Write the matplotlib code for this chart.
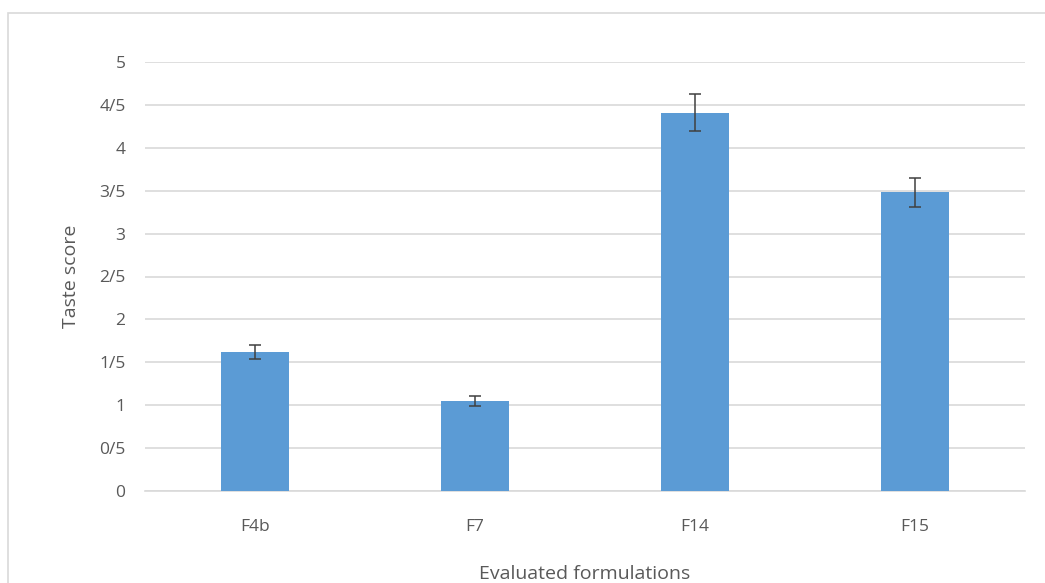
import matplotlib.pyplot as plt
from matplotlib.patches import Rectangle
import numpy as np

# data
formulations = ["F4b", "F7", "F14", "F15"]
taste_score = [1.62, 1.05, 4.41, 3.48]
score_err = [0.08, 0.06, 0.22, 0.17]

y_ticks = [0, 0.5, 1, 1.5, 2, 2.5, 3, 3.5, 4, 4.5, 5]
y_tick_labels = ["0", "0/5", "1", "1/5", "2", "2/5", "3", "3/5", "4", "4/5", "5"]

text_col = "#595959"
plt.rcParams["font.family"] = ["Open Sans", "DejaVu Sans"]

fig = plt.figure(figsize=(10.45, 5.83), dpi=100)
fig.set_facecolor("white")

# light frame around the chart area (runs off right/bottom like the source)
fig.patches.append(Rectangle((8 / 1045, -0.05), 1.1, 1 - 13 / 583 + 0.05,
                             transform=fig.transFigure, fill=False,
                             edgecolor="#d9d9d9", linewidth=1.2, zorder=0))

ax = fig.add_axes([145 / 1045, 92 / 583, 880 / 1045, 429 / 583])
x = np.arange(len(formulations))
ax.bar(x, taste_score, width=0.31, color="#5b9bd5", zorder=3,
       yerr=score_err, error_kw=dict(ecolor="#404040", elinewidth=1.1,
                                     capsize=4.5, capthick=1.1, zorder=4))

ax.set_xlim(-0.5, len(formulations) - 0.5)
ax.set_ylim(0, 5)
ax.set_yticks(y_ticks)
ax.set_yticklabels(y_tick_labels)
ax.set_xticks(x)
ax.set_xticklabels(formulations)

ax.grid(axis="y", color="#d9d9d9", linewidth=1.2, zorder=0)
ax.set_axisbelow(True)
for s in ["top", "right", "left"]:
    ax.spines[s].set_visible(False)
ax.spines["bottom"].set_color("#d9d9d9")
ax.spines["bottom"].set_linewidth(1.2)

ax.tick_params(axis="y", length=0, pad=14, labelsize=12.5, labelcolor=text_col)
ax.tick_params(axis="x", length=0, pad=20, labelsize=12.5, labelcolor=text_col)

ax.set_ylabel("Taste score", fontsize=14, color=text_col, labelpad=14)
ax.set_xlabel("Evaluated formulations", fontsize=14, color=text_col, labelpad=22)

fig.savefig("out.png", dpi=100, facecolor="white")
